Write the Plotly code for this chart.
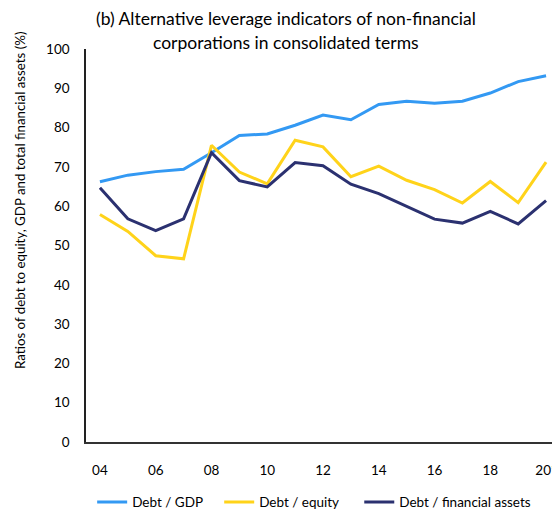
import plotly.graph_objects as go

years = ["04", "05", "06", "07", "08", "09", "10", "11", "12", "13", "14", "15", "16", "17", "18", "19", "20*"]
debt_gdp = [66.2, 67.9, 68.8, 69.4, 73.6, 78.0, 78.4, 80.6, 83.2, 82.0, 85.9, 86.7, 86.2, 86.7, 88.8, 91.7, 93.2]
debt_equity = [57.9, 53.6, 47.4, 46.6, 75.5, 68.7, 65.7, 76.8, 75.1, 67.5, 70.2, 66.6, 64.2, 60.8, 66.3, 60.9, 71.2]
debt_fin_assets = [64.7, 56.8, 53.8, 56.8, 73.6, 66.5, 64.9, 71.1, 70.3, 65.6, 63.2, 60.0, 56.7, 55.7, 58.7, 55.5, 61.4]

title_lines = ["(b) Alternative leverage indicators of non-financial",
               "corporations in consolidated terms"]
y_title = "Ratios of debt to equity, GDP and total financial assets (%)"

tick_idx = list(range(0, len(years), 2))
tick_text = [years[i] for i in tick_idx]
x = list(range(len(years)))

font_family = "Lato, 'Open Sans', sans-serif"

fig = go.Figure()
fig.add_trace(go.Scatter(x=x, y=debt_gdp, mode="lines", name="Debt / GDP", legend="legend",
                         line=dict(color="#3399F3", width=3)))
fig.add_trace(go.Scatter(x=x, y=debt_equity, mode="lines", name="Debt / equity", legend="legend2",
                         line=dict(color="#FFD31A", width=3)))
fig.add_trace(go.Scatter(x=x, y=debt_fin_assets, mode="lines", name="Debt / financial assets", legend="legend3",
                         line=dict(color="#2B3170", width=3)))

leg_common = dict(orientation="h", xanchor="left", y=-0.153, yanchor="middle",
                  font=dict(size=13.5), bgcolor="rgba(0,0,0,0)")

fig.update_layout(
    width=552, height=508,
    margin=dict(l=78, r=0, t=41, b=74, autoexpand=False),
    paper_bgcolor="white", plot_bgcolor="white",
    font=dict(family=font_family, color="#000000", size=13),
    showlegend=True,
    legend=dict(x=0.013, **leg_common),
    legend2=dict(x=0.281, **leg_common),
    legend3=dict(x=0.5765, **leg_common),
    xaxis=dict(range=[-0.5, len(years) - 0.5], tickmode="array", tickvals=tick_idx, ticktext=tick_text,
               showgrid=False, zeroline=False, showline=True, linecolor="#333333", linewidth=1.5,
               ticks="", ticklabelstandoff=15, tickfont=dict(size=13.5), ticklabeloverflow="allow"),
    yaxis=dict(range=[0, 100], dtick=10, showgrid=False, zeroline=False, showline=True,
               linecolor="#222222", linewidth=1.5, ticks="", ticklabelstandoff=12,
               tickfont=dict(size=13.5)),
    annotations=[
        dict(text=title_lines[0], xref="paper", yref="paper", x=0.422, y=1,
             xanchor="center", yanchor="middle", yshift=31,
             showarrow=False, font=dict(size=17.5, family=font_family, color="#000000")),
        dict(text=title_lines[1], xref="paper", yref="paper", x=0.422, y=1,
             xanchor="center", yanchor="middle", yshift=7,
             showarrow=False, font=dict(size=17.5, family=font_family, color="#000000")),
        dict(text=y_title, xref="paper", yref="paper", x=-0.139, y=0.616, xanchor="center", yanchor="middle",
             textangle=-90, showarrow=False, font=dict(size=13.3, family=font_family, color="#000000")),
    ],
)

fig.write_html("out.html")
